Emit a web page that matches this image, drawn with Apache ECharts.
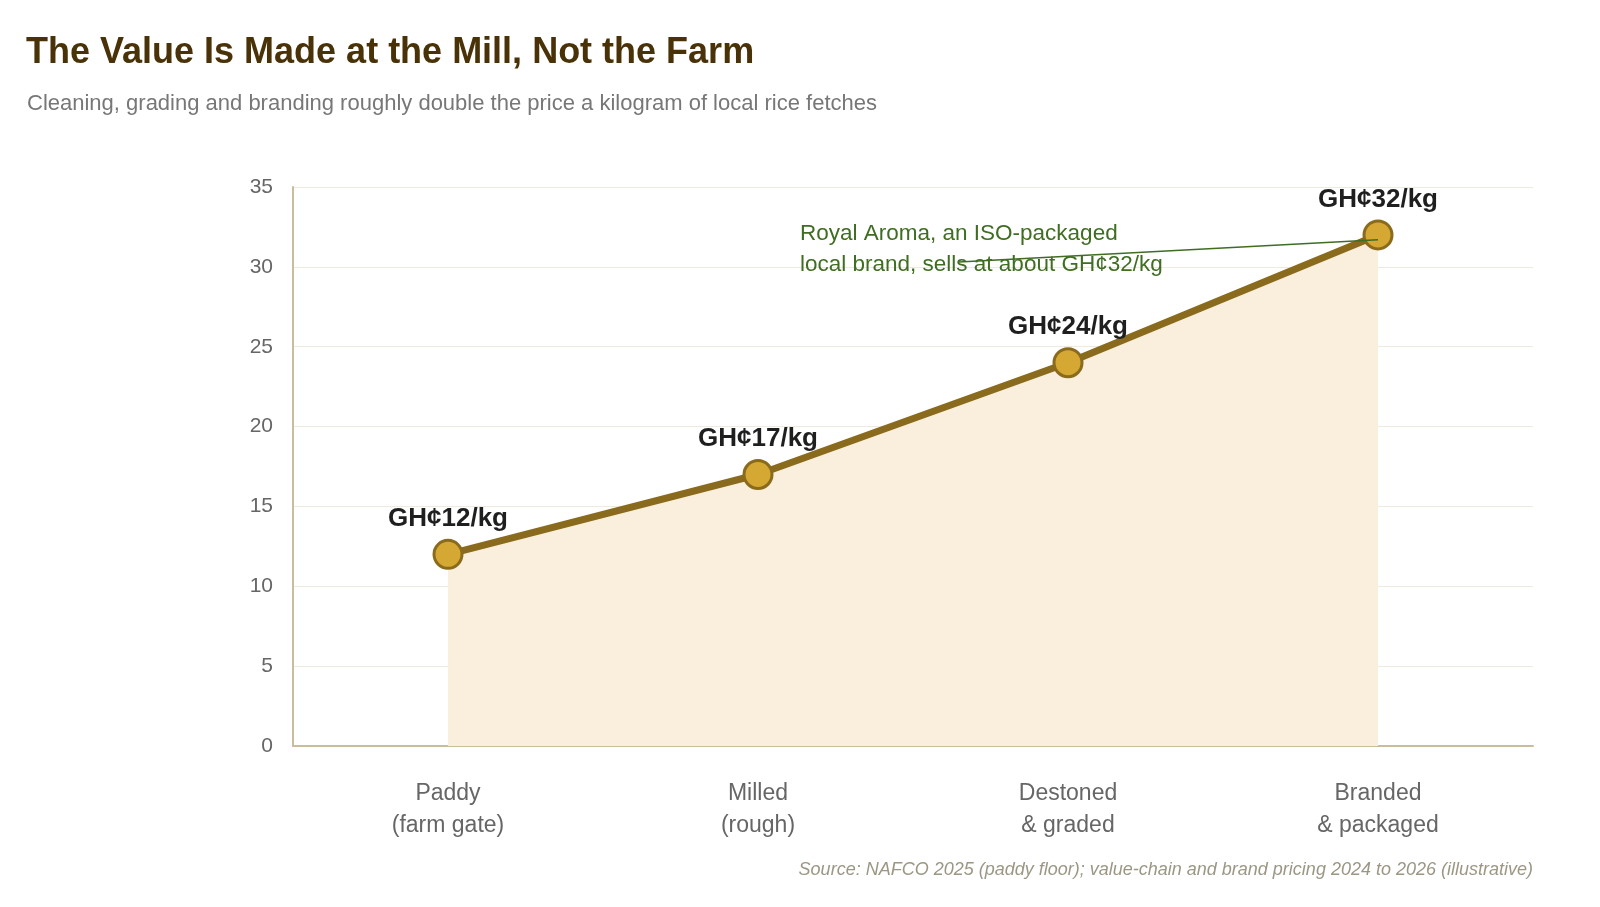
<!DOCTYPE html>
<html>
<head>
<meta charset="utf-8">
<script src="https://cdn.jsdelivr.net/npm/echarts@6/dist/echarts.min.js"></script>
<style>
  html, body { margin: 0; padding: 0; background: #fff; }
  #main { width: 1600px; height: 907px; }
</style>
</head>
<body>
<div id="main"></div>
<script>
var stages = ['Paddy\n(farm gate)', 'Milled\n(rough)', 'Destoned\n& graded', 'Branded\n& packaged'];
var prices = [12, 17, 24, 32];
var yTicks = [0, 5, 10, 15, 20, 25, 30, 35];

var myChart = echarts.init(document.getElementById('main'));
var font = '"Liberation Sans", Arial, Helvetica, sans-serif';

var option = {
    backgroundColor: '#ffffff',
    textStyle: { fontFamily: font },
    title: [
        {
            text: 'The Value Is Made at the Mill, Not the Farm',
            left: 21, top: 30,
            textStyle: { fontFamily: font, fontSize: 36, fontWeight: 'bold', color: '#4a3208' }
        },
        {
            text: 'Cleaning, grading and branding roughly double the price a kilogram of local rice fetches',
            left: 22, top: 88,
            textStyle: { fontFamily: font, fontSize: 22, fontWeight: 'normal', color: '#777777' }
        },
        {
            text: 'Source: NAFCO 2025 (paddy floor); value-chain and brand pricing 2024 to 2026 (illustrative)',
            right: 62, top: 856,
            textStyle: { fontFamily: font, fontSize: 18, fontStyle: 'italic', fontWeight: 'normal', color: '#9c9784' }
        }
    ],
    grid: { left: 293, right: 67, top: 187, bottom: 161 },
    xAxis: {
        type: 'category',
        data: stages,
        axisLine: { lineStyle: { color: '#c9bd9b', width: 2 } },
        axisTick: { show: false },
        axisLabel: { color: '#666666', fontSize: 23, lineHeight: 32, margin: 32, fontFamily: font }
    },
    yAxis: {
        type: 'value',
        min: 0, max: 35, interval: 5,
        axisLine: { show: true, lineStyle: { color: '#c9bd9b', width: 2 } },
        axisTick: { show: false },
        splitLine: { lineStyle: { color: '#eeeadf', width: 1 } },
        axisLabel: {
            color: '#666666', fontSize: 21, margin: 20, fontFamily: font,
            formatter: function (v) { return yTicks.indexOf(v) >= 0 ? String(v) : ''; }
        }
    },
    series: [
        {
            type: 'line',
            data: prices,
            symbol: 'circle',
            symbolSize: 28,
            lineStyle: { color: '#8a6a1c', width: 7 },
            itemStyle: { color: '#d4a833', borderColor: '#8a6a1c', borderWidth: 3 },
            areaStyle: { color: '#f9efdc', opacity: 1 },
            label: {
                show: true,
                position: 'top',
                distance: 7,
                formatter: function (p) { return 'GH¢' + p.value + '/kg'; },
                fontSize: 26, fontWeight: 'bold', color: '#1f1f1f', fontFamily: font
            },
            markLine: {
                silent: true,
                symbol: 'none',
                label: { show: false },
                lineStyle: { color: '#3f6d22', width: 1.5, type: 'solid' },
                data: [[{ x: 959, y: 262 }, { coord: [3, 31.7] }]]
            },
            z: 3
        }
    ],
    graphic: [
        {
            type: 'text',
            left: 800, top: 218,
            z: 10,
            style: {
                text: 'Royal Aroma, an ISO-packaged\nlocal brand, sells at about GH¢32/kg',
                font: '22.5px ' + font,
                fill: '#3f6d22',
                lineHeight: 31
            }
        }
    ]
};

myChart.setOption(option);
</script>
</body>
</html>
